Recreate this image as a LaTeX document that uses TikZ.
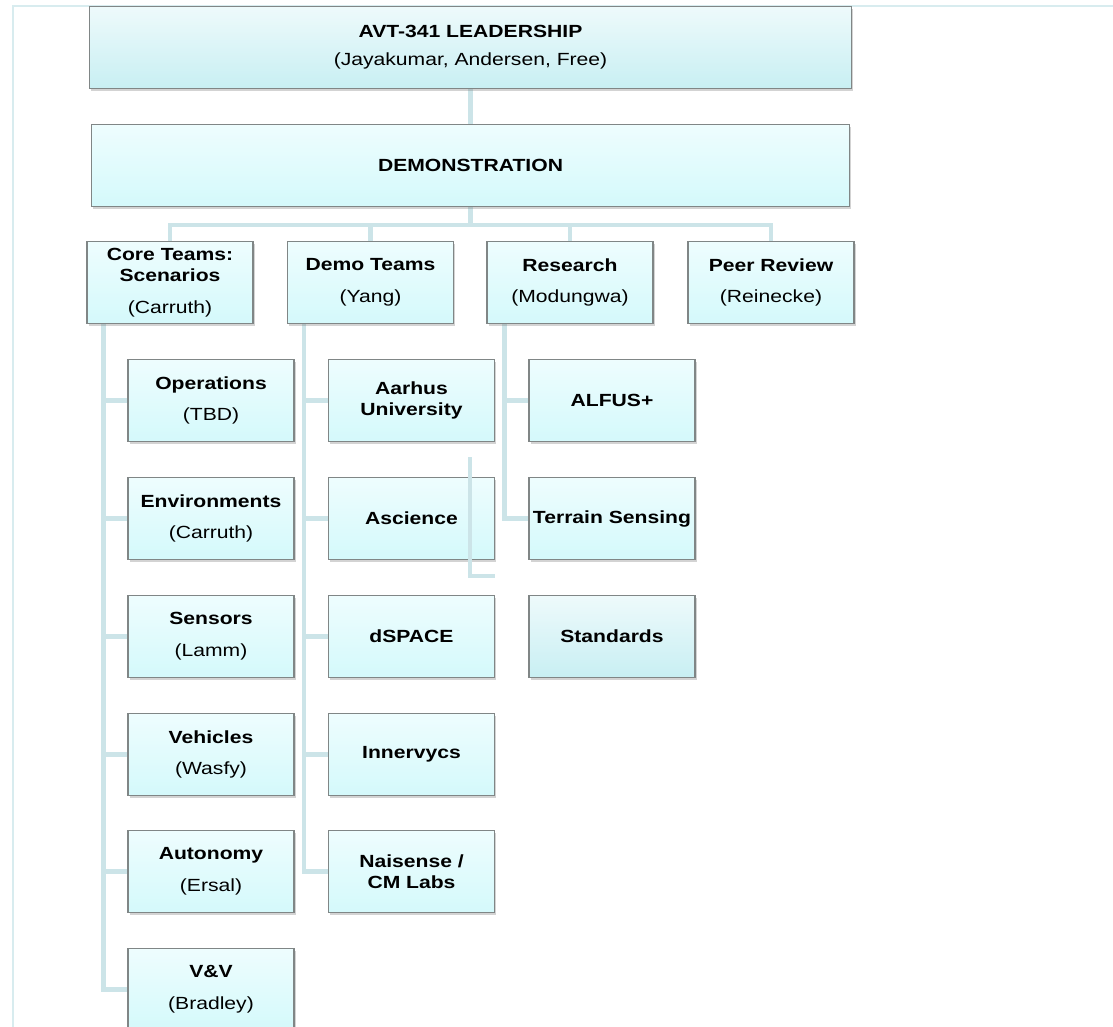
\documentclass[tikz,border=0pt]{standalone}
\usepackage{fontspec}
\setmainfont{Liberation Sans}[FakeStretch=1.2]
\usetikzlibrary{shadows,backgrounds}

\definecolor{linkblue}{RGB}{204,228,232}
\definecolor{framecol}{RGB}{216,236,239}
\definecolor{boxtop}{RGB}{238,253,254}
\definecolor{boxbot}{RGB}{212,249,251}
\definecolor{leadtop}{RGB}{238,250,251}
\definecolor{leadbot}{RGB}{200,239,243}
\definecolor{boxline}{RGB}{128,134,134}

\tikzset{
  unit/.style={draw=boxline, line width=0.9pt, top color=boxtop, bottom color=boxbot,
    minimum width=124.5pt, minimum height=62pt, align=center, inner sep=2pt,
    font=\fontsize{13.2}{15.8}\selectfont,
    drop shadow={shadow xshift=1.2pt, shadow yshift=-1.8pt, opacity=0.35}},
  leadunit/.style={unit, top color=leadtop, bottom color=leadbot},
  link/.style={draw=linkblue, line width=3.6pt},
}

\begin{document}
\begin{tikzpicture}[x=0.75pt,y=-0.75pt]
\useasboundingbox (0,0) rectangle (1113,1027);

% top of the chart
\node[leadunit, minimum width=572pt] (lead) at (470.5,47.5)
  {\textbf{AVT-341 LEADERSHIP}\\[5pt](Jayakumar, Andersen, Free)};
\node[unit, minimum width=569pt] (demo) at (470.5,165.5) {\textbf{DEMONSTRATION}};

% groups
\node[unit] (core) at (170,282.5) {\textbf{Core Teams:}\\\textbf{Scenarios}\\[8pt](Carruth)};
\node[unit] (teams) at (370.5,282.5) {\textbf{Demo Teams}\\[8pt](Yang)};
\node[unit] (research) at (570,282.5) {\textbf{Research}\\[8pt](Modungwa)};
\node[unit] (review) at (771,282.5) {\textbf{Peer Review}\\[8pt](Reinecke)};

% core teams
\node[unit] (ops) at (211,400.5) {\textbf{Operations}\\[8pt](TBD)};
\node[unit] (env) at (211,518.5) {\textbf{Environments}\\[8pt](Carruth)};
\node[unit] (sens) at (211,636.5) {\textbf{Sensors}\\[8pt](Lamm)};
\node[unit] (veh) at (211,754.5) {\textbf{Vehicles}\\[8pt](Wasfy)};
\node[unit] (auto) at (211,871.5) {\textbf{Autonomy}\\[8pt](Ersal)};
\node[unit] (vv) at (211,989.5) {\textbf{V\&V}\\[8pt](Bradley)};

% demo teams
\node[unit] (aarhus) at (411.5,400.5) {\textbf{Aarhus}\\\textbf{University}};
\node[unit] (ascience) at (411.5,518.5) {\textbf{Ascience}};
\node[unit] (dspace) at (411.5,636.5) {\textbf{dSPACE}};
\node[unit] (innerv) at (411.5,754.5) {\textbf{Innervycs}};
\node[unit] (naisense) at (411.5,871.5) {\textbf{Naisense /}\\\textbf{CM Labs}};

% research
\node[unit] (alfus) at (612,400.5) {\textbf{ALFUS+}};
\node[unit] (terrain) at (612,518.5) {\textbf{Terrain Sensing}};
\node[leadunit] (standards) at (612,636.5) {\textbf{Standards}};

\coordinate (bus) at (470.5,225);
\coordinate (strayA) at (470,457);
\coordinate (strayB) at (495,576);

\begin{scope}[on background layer]
  \draw[draw=framecol, line width=1.5pt] (1113,6) -- (13,6) -- (13,1027);
  \draw[link] (lead) -- (demo);
  \draw[link] (demo) -- (bus);
  \draw[link] (core.north) |- (bus) -| (review.north);
  \draw[link] (teams.north) -- (teams.north |- bus);
  \draw[link] (research.north) -- (research.north |- bus);
  % spines
  \draw[link] ([xshift=-18pt]ops.west |- core.south) |- (vv.west);
  \draw[link] ([xshift=-18pt]aarhus.west |- teams.south) |- (naisense.west);
  \draw[link] ([xshift=-18pt]alfus.west |- research.south) |- (terrain.west);
  \foreach \n in {ops,env,sens,veh,auto,aarhus,ascience,dspace,innerv,alfus}
    \draw[link] (\n.west) -- ++(-18pt,0);
\end{scope}
\draw[link, line width=3pt] (strayA) |- (strayB);
\end{tikzpicture}
\end{document}
